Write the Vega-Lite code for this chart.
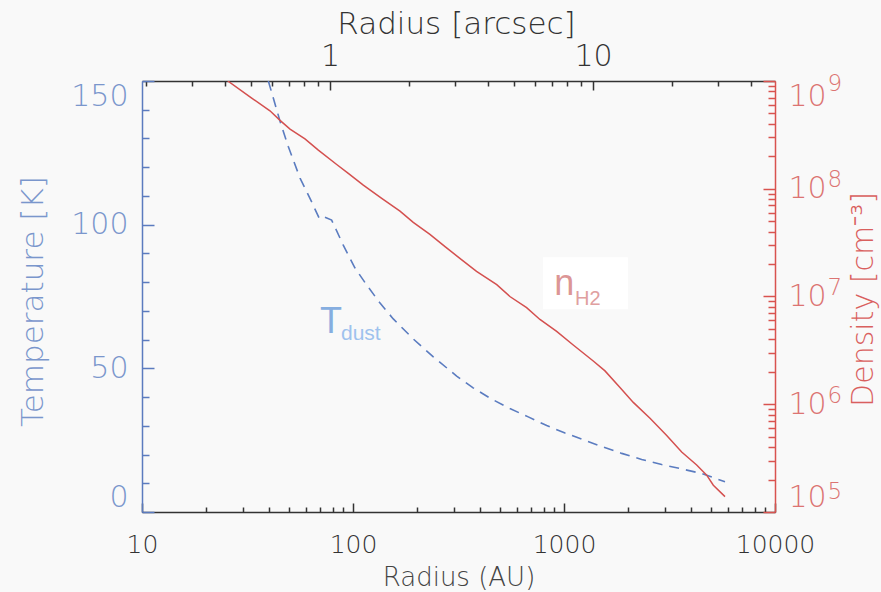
{
  "$schema": "https://vega.github.io/schema/vega-lite/v6.json",
  "width": 633,
  "height": 431,
  "autosize": {"type": "none"},
  "padding": {"left": 142, "top": 81, "right": 106, "bottom": 80},
  "background": "#f9f9f9",
  "config": {
    "view": {"stroke": null},
    "axis": {"grid": false, "labelFont": "DejaVu Sans", "titleFont": "DejaVu Sans", "labelFontWeight": 200, "titleFontWeight": 200, "labelOverlap": false}
  },
  "datasets": {
    "temp": [
      {"AU": 39.7, "T": 150}, {"AU": 45.1, "T": 136.0}, {"AU": 49.3, "T": 127.3}, {"AU": 56.1, "T": 116.2},
      {"AU": 63.7, "T": 107.9}, {"AU": 69.2, "T": 102.2}, {"AU": 72.3, "T": 102.8}, {"AU": 79.2, "T": 101.6},
      {"AU": 89.9, "T": 92.9}, {"AU": 102.2, "T": 84.9}, {"AU": 116.1, "T": 79.0}, {"AU": 134.3, "T": 72.7},
      {"AU": 155.2, "T": 67.2}, {"AU": 193.2, "T": 60.2}, {"AU": 240.2, "T": 54.0}, {"AU": 310, "T": 47.3},
      {"AU": 371, "T": 43.2}, {"AU": 454, "T": 39.3}, {"AU": 554, "T": 36.0}, {"AU": 677, "T": 33.1},
      {"AU": 828, "T": 30.1}, {"AU": 1011, "T": 27.5}, {"AU": 1258, "T": 24.9}, {"AU": 1536, "T": 22.6},
      {"AU": 1877, "T": 20.4}, {"AU": 2335, "T": 18.3}, {"AU": 2904, "T": 16.5}, {"AU": 3612, "T": 15.0},
      {"AU": 4494, "T": 13.4}, {"AU": 5795, "T": 10.5}
    ],
    "dens": [
      {"AU": 25.5, "n": 1.0e9}, {"AU": 33.1, "n": 6.95e8}, {"AU": 40.4, "n": 5.29e8}, {"AU": 45.1, "n": 4.31e8},
      {"AU": 50.3, "n": 3.58e8}, {"AU": 59.2, "n": 2.90e8}, {"AU": 68.5, "n": 2.28e8}, {"AU": 83.7, "n": 1.68e8},
      {"AU": 95.0, "n": 1.39e8}, {"AU": 111.9, "n": 1.08e8}, {"AU": 136.8, "n": 8.13e7}, {"AU": 167, "n": 6.19e7},
      {"AU": 193, "n": 4.87e7}, {"AU": 231.5, "n": 3.77e7}, {"AU": 273, "n": 2.90e7}, {"AU": 321, "n": 2.26e7},
      {"AU": 385, "n": 1.71e7}, {"AU": 480, "n": 1.29e7}, {"AU": 554, "n": 1.00e7}, {"AU": 665, "n": 7.87e6},
      {"AU": 769, "n": 6.12e6}, {"AU": 923, "n": 4.74e6}, {"AU": 1106, "n": 3.55e6}, {"AU": 1376, "n": 2.52e6},
      {"AU": 1564, "n": 2.04e6}, {"AU": 1842, "n": 1.43e6}, {"AU": 2130, "n": 1.04e6}, {"AU": 2556, "n": 7.41e5},
      {"AU": 3067, "n": 5.14e5}, {"AU": 3612, "n": 3.60e5}, {"AU": 4254, "n": 2.73e5}, {"AU": 4746, "n": 2.20e5},
      {"AU": 5102, "n": 1.77e5}, {"AU": 5795, "n": 1.39e5}
    ],
    "dummy": [{"AU": 100, "T": 50, "arcsec": 1, "n": 1e6}],
    "box": [{"x1": 795, "x2": 2009, "y1": 70.6, "y2": 88.7}],
    "bigT": [{"label": "T", "AU": 69.8, "T": 62.3}],
    "subT": [{"label": "dust", "AU": 87.7, "T": 59.9}],
    "bigN": [{"label": "n", "AU": 900, "T": 75.5}],
    "subN": [{"label": "H2", "AU": 1127, "T": 72.0}]
  },
  "layer": [
    {
      "data": {"name": "temp"},
      "mark": {"type": "line", "color": "#5b7cc0", "strokeWidth": 1.6, "strokeDash": [10, 7], "clip": true},
      "encoding": {
        "x": {"field": "AU", "type": "quantitative", "scale": {"type": "log", "domain": [10, 10000], "nice": false},
          "axis": {"orient": "bottom", "values": [10, 100, 1000, 10000], "format": "d", "tickSize": -9, "tickWidth": 1.5,
            "tickColor": "#333", "domainColor": "#333", "domainWidth": 1.5, "labelFontSize": 25, "labelColor": "#333",
            "labelPadding": 49, "labelBaseline": "alphabetic", "labelFlush": false,
            "title": "Radius (AU)", "titleFontSize": 26, "titleColor": "#444", "titleX": 316.5, "titleY": 73,
            "titleBaseline": "alphabetic", "titleAlign": "center"}},
        "y": {"field": "T", "type": "quantitative", "scale": {"domain": [0, 150], "nice": false, "zero": false},
          "axis": {"orient": "left", "values": [0, 50, 100, 150], "tickSize": -12, "tickWidth": 1.5,
            "tickColor": "#5b7bbf", "domainColor": "#5b7bbf", "domainWidth": 1.5, "labelFontSize": 30, "labelColor": "#7a96cc",
            "labelPadding": 26, "labelFlush": true,
            "title": "Temperature [K]", "titleFontSize": 31, "titleColor": "#7a96cc", "titleAngle": 270,
            "titleX": -109, "titleY": 220, "titleAlign": "center", "titleBaseline": "middle"}}
      }
    },
    {
      "data": {"name": "dens"},
      "mark": {"type": "line", "color": "#d4504f", "strokeWidth": 1.5, "clip": true},
      "encoding": {
        "x": {"field": "AU", "type": "quantitative", "scale": {"type": "log", "domain": [10, 10000], "nice": false}, "axis": null},
        "y": {"field": "n", "type": "quantitative", "scale": {"type": "log", "domain": [1e5, 1e9], "nice": false},
          "axis": {"orient": "right", "values": [1e5, 1e6, 1e7, 1e8, 1e9], "tickSize": -12, "tickWidth": 1.5,
            "labelExpr": "'10'",
            "tickColor": "#d9534f", "domainColor": "#d9534f", "domainWidth": 1.5, "labelFontSize": 30, "labelColor": "#dc7472",
            "labelPadding": 25, "labelFlush": true,
            "title": "Density [cm⁻³]", "titleFontSize": 30, "titleColor": "#d9605e", "titleAngle": 270,
            "titleX": 88, "titleY": 218, "titleAlign": "center", "titleBaseline": "middle"}}
      }
    },
    {
      "data": {"name": "dummy"},
      "mark": {"type": "point", "opacity": 0},
      "encoding": {
        "y": {"field": "n", "type": "quantitative", "scale": {"type": "log", "domain": [1e5, 1e9], "nice": false},
          "axis": {"orient": "right", "values": [1e5, 1e6, 1e7, 1e8, 1e9], "ticks": false, "domain": false,
            "labelExpr": "format(log(datum.value)/LN10, '.0f')",
            "labelFontSize": 23, "labelColor": "#dc7472", "labelPadding": 52, "labelFlush": true, "labelOffset": -9, "title": null}}
      }
    },
    {
      "data": {"name": "dummy"},
      "mark": {"type": "point", "opacity": 0},
      "encoding": {
        "x": {"field": "AU", "type": "quantitative", "scale": {"type": "log", "domain": [10, 10000], "nice": false},
          "axis": {"orient": "bottom", "values": [20, 30, 40, 50, 60, 70, 80, 90, 200, 300, 400, 500, 600, 700, 800, 900, 2000, 3000, 4000, 5000, 6000, 7000, 8000, 9000],
            "labels": false, "domain": false, "tickSize": -5, "tickWidth": 1.5, "tickColor": "#333", "title": null}},
        "y": {"field": "T", "type": "quantitative", "scale": {"domain": [0, 150], "nice": false, "zero": false},
          "axis": {"orient": "left", "values": [10, 20, 30, 40, 60, 70, 80, 90, 110, 120, 130, 140],
            "labels": false, "domain": false, "tickSize": -7, "tickWidth": 1.5, "tickColor": "#5b7bbf", "title": null}}
      }
    },
    {
      "data": {"name": "dummy"},
      "mark": {"type": "point", "opacity": 0},
      "encoding": {
        "x": {"field": "arcsec", "type": "quantitative", "scale": {"type": "log", "domain": [0.193, 49.2], "nice": false},
          "axis": {"orient": "top", "values": [1, 10], "format": "d", "tickSize": -9, "tickWidth": 1.5,
            "tickColor": "#333", "domainColor": "#333", "domainWidth": 1.5, "labelFontSize": 30, "labelColor": "#333",
            "labelPadding": 25, "labelBaseline": "alphabetic", "labelFlush": false,
            "title": "Radius [arcsec]", "titleFontSize": 31, "titleColor": "#333", "titleX": 314, "titleY": -48,
            "titleBaseline": "alphabetic", "titleAlign": "center"}},
        "y": {"field": "n", "type": "quantitative", "scale": {"type": "log", "domain": [1e5, 1e9], "nice": false},
          "axis": {"orient": "right", "values": [2e5, 3e5, 4e5, 5e5, 6e5, 7e5, 8e5, 9e5, 2e6, 3e6, 4e6, 5e6, 6e6, 7e6, 8e6, 9e6, 2e7, 3e7, 4e7, 5e7, 6e7, 7e7, 8e7, 9e7, 2e8, 3e8, 4e8, 5e8, 6e8, 7e8, 8e8, 9e8],
            "labels": false, "domain": false, "tickSize": -7, "tickWidth": 1.5, "tickColor": "#d9534f", "title": null}}
      }
    },
    {
      "data": {"name": "dummy"},
      "mark": {"type": "point", "opacity": 0},
      "encoding": {
        "x": {"field": "arcsec", "type": "quantitative", "scale": {"type": "log", "domain": [0.193, 49.2], "nice": false},
          "axis": {"orient": "top", "values": [0.2, 0.3, 0.4, 0.5, 0.6, 0.7, 0.8, 0.9, 2, 3, 4, 5, 6, 7, 8, 9, 20, 30, 40],
            "labels": false, "domain": false, "tickSize": -5, "tickWidth": 1.5, "tickColor": "#333", "title": null}}
      }
    },
    {
      "data": {"name": "box"},
      "mark": {"type": "rect", "color": "#ffffff"},
      "encoding": {
        "x": {"field": "x1", "type": "quantitative", "scale": {"type": "log", "domain": [10, 10000], "nice": false}, "axis": null},
        "x2": {"field": "x2"},
        "y": {"field": "y1", "type": "quantitative", "scale": {"domain": [0, 150], "nice": false, "zero": false}, "axis": null},
        "y2": {"field": "y2"}
      }
    },
    {
      "data": {"name": "bigT"},
      "mark": {"type": "text", "font": "Liberation Sans", "fontSize": 36, "color": "#86aee0", "align": "left", "baseline": "alphabetic"},
      "encoding": {
        "x": {"field": "AU", "type": "quantitative", "scale": {"type": "log", "domain": [10, 10000], "nice": false}, "axis": null},
        "y": {"field": "T", "type": "quantitative", "scale": {"domain": [0, 150], "nice": false, "zero": false}, "axis": null},
        "text": {"field": "label"}
      }
    },
    {
      "data": {"name": "subT"},
      "mark": {"type": "text", "font": "Liberation Sans", "fontSize": 21, "color": "#9ec2ee", "align": "left", "baseline": "alphabetic"},
      "encoding": {
        "x": {"field": "AU", "type": "quantitative", "scale": {"type": "log", "domain": [10, 10000], "nice": false}, "axis": null},
        "y": {"field": "T", "type": "quantitative", "scale": {"domain": [0, 150], "nice": false, "zero": false}, "axis": null},
        "text": {"field": "label"}
      }
    },
    {
      "data": {"name": "bigN"},
      "mark": {"type": "text", "font": "Liberation Sans", "fontSize": 36, "color": "#dc9696", "align": "left", "baseline": "alphabetic"},
      "encoding": {
        "x": {"field": "AU", "type": "quantitative", "scale": {"type": "log", "domain": [10, 10000], "nice": false}, "axis": null},
        "y": {"field": "T", "type": "quantitative", "scale": {"domain": [0, 150], "nice": false, "zero": false}, "axis": null},
        "text": {"field": "label"}
      }
    },
    {
      "data": {"name": "subN"},
      "mark": {"type": "text", "font": "Liberation Sans", "fontSize": 20, "color": "#e0a0a0", "align": "left", "baseline": "alphabetic"},
      "encoding": {
        "x": {"field": "AU", "type": "quantitative", "scale": {"type": "log", "domain": [10, 10000], "nice": false}, "axis": null},
        "y": {"field": "T", "type": "quantitative", "scale": {"domain": [0, 150], "nice": false, "zero": false}, "axis": null},
        "text": {"field": "label"}
      }
    }
  ],
  "resolve": {"scale": {"x": "independent", "y": "independent"}}
}
